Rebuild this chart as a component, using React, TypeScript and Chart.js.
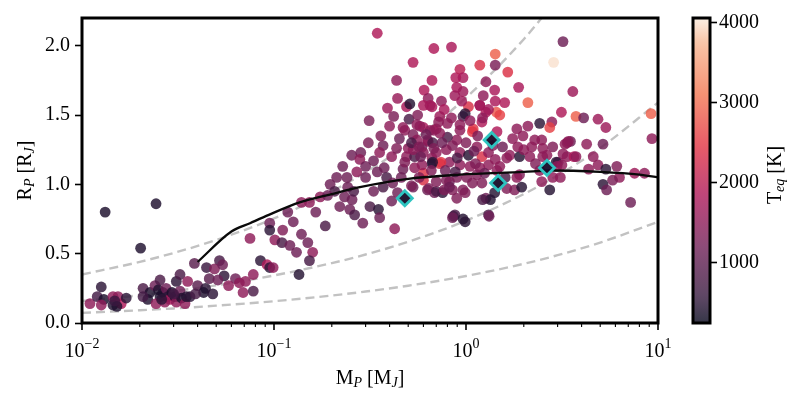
import { useEffect, useRef } from 'react';
import { Chart, registerables } from 'chart.js';
Chart.register(...registerables);

// ---- data: planets (mass [M_J], radius [R_J], equilibrium temperature [K]) ----
const massMJ = [
  0.0132, 0.0243, 0.0202, 0.011, 0.0126, 0.012, 0.013, 0.0126, 0.0145, 0.0145,
  0.0154, 0.016, 0.0152, 0.017, 0.0148, 0.0208, 0.0226, 0.024, 0.025, 0.0255,
  0.0264, 0.0274, 0.028, 0.0287, 0.0294, 0.0305, 0.031, 0.0324, 0.033, 0.0344,
  0.027, 0.022, 0.0243, 0.035, 0.0365, 0.0255, 0.031, 0.0208, 0.026, 0.03,
  0.0324, 0.0355, 0.0385, 0.0445, 0.052, 0.049, 0.054, 0.055, 0.046, 0.051,
  0.075, 0.078, 0.085, 0.092, 0.095, 0.063, 0.071, 0.066, 0.058, 0.069,
  0.078, 0.04, 0.044, 0.043, 0.048, 0.039, 0.095, 0.095, 0.101, 0.111,
  0.11, 0.099,
  0.118, 0.126, 0.139, 0.121, 0.131, 0.15, 0.159, 0.153, 0.135, 0.174,
  0.153, 0.139, 0.212, 0.196, 0.207, 0.242, 0.233, 0.22, 0.248, 0.263,
  0.316, 0.35, 0.355, 0.29, 0.228, 0.254, 0.283, 0.28, 0.27, 0.3,
  0.345, 0.375, 0.41, 0.47, 0.49, 0.54, 0.31, 0.37, 0.435, 0.5,
  0.59, 0.635, 0.665, 0.73, 0.665, 0.6, 0.386, 0.415, 0.44, 0.53,
  0.63, 0.685, 0.755, 0.82, 0.86, 0.425, 0.345, 0.68, 0.84, 0.53,
  0.435, 0.665, 0.885, 0.605, 0.44, 0.635, 0.49, 0.39, 0.42, 0.745,
  0.77, 0.665, 0.313, 0.505, 0.555, 0.48, 0.6, 0.53, 0.68, 0.84,
  0.93, 0.965, 0.895, 0.965, 0.875, 0.51, 0.6, 0.65, 1.03, 0.73,
  0.965, 0.47, 0.7, 0.8, 0.93, 0.99, 1.18, 1.44, 1.59, 1.27,
  1.21, 1.08, 0.93, 0.895, 0.8, 0.73, 0.65, 0.575, 0.555, 0.63,
  0.67, 0.53, 0.6, 0.7, 0.79, 0.93, 1.03, 1.14, 1.21, 1.31,
  1.42, 1.63, 1.31, 1.45, 1.18, 1.05, 0.93, 0.82, 0.74, 0.67,
  0.59, 0.54, 0.6, 0.52, 0.64, 0.7, 0.77, 0.7, 0.79, 0.895,
  1.01, 1.14, 0.85, 0.965, 1.08, 1.21, 1.27, 1.34, 1.41, 1.63,
  1.79, 1.9, 0.875, 0.965, 1.31,
  3.2, 1.42, 1.18, 1.42, 1.65, 2.86, 1.27, 1.41, 1.88, 1.23,
  2.1, 3.6, 1.18, 1.42, 1.31, 1.5, 3.14, 3.74, 1.22, 1.09,
  1.45, 1.84, 2.1, 2.42, 2.8, 2.73, 3.36, 3.5, 1.75, 1.98,
  2.28, 1.86, 2.2, 2.51, 2.83, 2.15, 2.51, 1.69, 3.36, 3.02,
  4.1, 4.87, 5.35, 9.2, 9.3, 4.25, 5.17, 2.48, 2.64, 3.2,
  3.65, 2.95, 3.16, 4.87, 5.35, 6.1, 4.35, 7.55, 8.5, 6.3,
  5.8, 5.17, 5.4, 2.73, 2.83, 3.1, 2.48, 7.2, 1.9, 1.5,
  1.84, 1.95, 1.22, 1.32, 0.99, 0.85, 0.99, 0.895, 2.42, 2.98,
  3.28, 3.41, 3.74, 0.3, 0.33, 0.355, 0.41, 0.255,
  0.45, 0.52, 0.57, 0.62, 0.68, 0.75, 0.85, 0.9, 1.0, 1.1,
  0.48, 0.58, 0.66, 0.78, 0.88, 1.12, 1.25, 1.38, 1.55, 1.6,
  0.36, 0.4, 0.56, 0.72, 0.95, 1.05, 1.15, 0.46, 0.57, 0.82,
  0.24, 0.19, 0.26, 0.165, 0.185, 0.33, 0.37, 2.3, 2.0, 4.6,
];
const radiusRJ = [
  0.8, 0.86, 0.54, 0.14, 0.26, 0.19, 0.17, 0.13, 0.13, 0.19,
  0.19, 0.14, 0.12, 0.18, 0.16, 0.25, 0.22, 0.27, 0.24, 0.19,
  0.22, 0.25, 0.19, 0.17, 0.22, 0.19, 0.15, 0.23, 0.18, 0.14,
  0.15, 0.17, 0.14, 0.19, 0.19, 0.31, 0.3, 0.19, 0.17, 0.21,
  0.35, 0.3, 0.43, 0.4, 0.45, 0.39, 0.42, 0.34, 0.32, 0.31,
  0.61, 0.35, 0.45, 0.42, 0.4, 0.32, 0.3, 0.29, 0.27, 0.22,
  0.23, 0.27, 0.25, 0.22, 0.21, 0.21, 0.72, 0.67, 0.6, 0.67,
  0.58, 0.4,
  0.8, 0.73, 0.64, 0.56, 0.51, 0.58, 0.51, 0.45, 0.35, 0.91,
  0.87, 0.87, 1.05, 1.0, 0.95, 0.98, 0.91, 0.84, 0.82, 0.78,
  0.84, 0.82, 0.76, 0.72, 1.13, 1.21, 1.23, 1.18, 1.09, 1.13,
  1.09, 1.12, 1.2, 1.11, 1.2, 1.2, 1.3, 1.28, 1.26, 1.26,
  1.27, 1.31, 1.19, 1.15, 1.15, 1.08, 1.05, 1.01, 0.94, 0.98,
  0.96, 0.94, 0.94, 1.02, 0.77, 0.68, 2.09, 1.98, 1.99, 1.88,
  1.75, 1.75, 1.77, 1.68, 1.62, 1.62, 1.56, 1.55, 1.49, 1.6,
  1.54, 1.56, 1.46, 1.47, 1.43, 1.39, 1.41, 1.36, 1.39, 1.48,
  1.83, 1.77, 1.7, 1.67, 1.64, 1.58, 1.57, 1.57, 1.56, 1.49,
  1.49, 1.41, 1.4, 1.44, 1.43, 1.51, 1.57, 1.52, 1.59, 1.52,
  1.45, 1.38, 1.39, 1.32, 1.34, 1.37, 1.39, 1.42, 1.32, 1.32,
  1.3, 1.25, 1.23, 1.23, 1.25, 1.23, 1.21, 1.27, 1.2, 1.23,
  1.18, 1.19, 1.14, 1.1, 1.12, 1.13, 1.14, 1.16, 1.16, 1.16,
  1.14, 1.12, 1.03, 0.99, 0.97, 0.95, 0.96, 1.02, 1.03, 1.05,
  1.05, 1.07, 0.96, 0.96, 1.01, 1.01, 0.9, 0.89, 0.94, 0.97,
  0.96, 1.07, 0.78, 0.75, 0.78,
  2.03, 1.94, 1.86, 1.86, 1.81, 1.88, 1.74, 1.68, 1.7, 1.64,
  1.59, 1.67, 1.57, 1.6, 1.54, 1.5, 1.52, 1.49, 1.48, 1.4,
  1.38, 1.4, 1.42, 1.44, 1.45, 1.41, 1.3, 1.31, 1.33, 1.35,
  1.32, 1.27, 1.27, 1.26, 1.27, 1.2, 1.2, 1.21, 1.2, 1.16,
  1.48, 1.47, 1.41, 1.51, 1.33, 1.29, 1.29, 1.32, 1.21, 1.22,
  1.2, 1.16, 1.14, 1.14, 1.11, 1.13, 1.11, 1.08, 1.08, 1.05,
  1.03, 1.0, 0.96, 0.96, 1.05, 1.05, 1.02, 0.87, 1.2, 1.13,
  1.05, 0.98, 0.89, 0.77, 0.73, 0.76, 0.94, 0.9, 1.1, 1.13,
  1.29, 1.31, 1.2, 1.05, 1.17, 1.23, 0.88, 0.89,
  1.33, 1.3, 1.27, 1.36, 1.26, 1.3, 1.28, 1.19, 1.3, 1.24,
  1.16, 1.2, 1.1, 1.1, 1.09, 1.15, 1.08, 1.28, 1.27, 1.05,
  1.35, 1.42, 1.5, 1.45, 1.6, 1.46, 1.35, 1.05, 1.05, 0.98,
  1.05, 0.92, 0.95, 0.8, 0.7, 0.95, 0.98, 1.15, 1.25, 1.2,
];
const teqK = [
  400, 420, 420, 1500, 500, 700, 400, 1500, 420, 1500,
  1500, 1850, 420, 500, 600, 800, 400, 1150, 420, 400,
  420, 1150, 500, 1800, 400, 420, 1500, 1150, 420, 1500,
  1500, 420, 1500, 450, 500, 800, 500, 700, 500, 700,
  800, 1500, 950, 600, 750, 1350, 1150, 500, 950, 1150,
  1500, 1500, 500, 1850, 500, 1150, 1500, 1500, 1500, 1500,
  800, 950, 500, 420, 500, 750, 1150, 500, 1500, 1350,
  800, 1500,
  1150, 1150, 1150, 1150, 1150, 1150, 1500, 750, 450, 1500,
  1500, 1500, 1150, 1150, 800, 1150, 1150, 1150, 1150, 800,
  800, 500, 1150, 1150, 1150, 1150, 1150, 1500, 1500, 1150,
  1150, 1150, 1500, 1150, 1500, 800, 1300, 1150, 1350, 1500,
  1150, 1500, 1500, 2350, 450, 2400, 750, 1150, 1150, 1150,
  1150, 1150, 500, 1150, 450, 1500, 1850, 1850, 1800, 1850,
  1500, 1850, 1850, 1850, 1600, 1500, 1800, 1650, 1300, 1500,
  1800, 1800, 1300, 800, 1500, 1500, 1800, 1300, 1500, 1500,
  2000, 1800, 1800, 1650, 1650, 450, 1800, 1700, 2350, 1650,
  750, 1500, 1650, 1500, 1500, 500, 1850, 2800, 1850, 1850,
  1850, 2450, 1500, 1500, 800, 1500, 1500, 1500, 1500, 1500,
  800, 1500, 1500, 1500, 1500, 1500, 450, 1500, 2350, 1500,
  1500, 1500, 1500, 1500, 1500, 1500, 1500, 1500, 2450, 500,
  1500, 1500, 2350, 1300, 1300, 800, 1350, 1350, 1350, 1350,
  1350, 1350, 1350, 1350, 1350, 1350, 1150, 450, 450, 1350,
  1350, 1350, 800, 450, 800,
  1150, 2900, 2350, 1300, 2400, 4000, 1500, 1800, 1800, 1500,
  2900, 1650, 1700, 1800, 1700, 2600, 1850, 2900, 1500, 2450,
  1850, 1500, 1500, 500, 1500, 2600, 1500, 1150, 1500, 1500,
  1500, 1500, 1500, 1500, 1350, 1500, 1500, 1500, 1500, 1350,
  1150, 1650, 1650, 2900, 1500, 1500, 1150, 1500, 1500, 1500,
  1850, 500, 1500, 1500, 500, 1350, 1500, 1650, 1500, 1500,
  1300, 500, 1150, 450, 1500, 1500, 1500, 1150, 450, 1500,
  1500, 450, 800, 1150, 500, 1150, 1350, 1350, 1500, 1500,
  1500, 1500, 1500, 1150, 1150, 1500, 1150, 1150,
  1150, 800, 1350, 1150, 1350, 1150, 1350, 800, 1350, 1150,
  1350, 1150, 1350, 1150, 800, 1350, 1150, 1350, 1150, 800,
  1350, 1500, 1350, 1500, 1650, 1500, 1350, 1150, 1350, 1150,
  1150, 1150, 800, 1150, 800, 1150, 800, 1350, 1500, 1500,
];

// highlighted planets (cyan diamonds)
const hostMass = [0.48, 1.36, 1.47, 2.64];
const hostRadius = [0.9, 1.32, 1.01, 1.12];

// mass-radius model curve (solid black)
const modelMass = [0.04, 0.06, 0.075, 0.094, 0.136, 0.2, 0.28, 0.5, 0.93, 2.0, 2.74, 5.0, 8.0, 10.0];
const modelRadius = [0.44, 0.66, 0.72, 0.78, 0.87, 0.93, 0.98, 1.04, 1.07, 1.09, 1.1, 1.09, 1.07, 1.05];

// constant-density curves (grey dashed)
const isoMass = [0.01, 0.02, 0.03, 0.05, 0.1, 0.2, 0.3, 0.5, 1, 2, 3, 5, 10];
const isoLowDensity = [0.35, 0.441, 0.505, 0.599, 0.754, 0.95, 1.088, 1.29, 1.625, 2.047, 2.344];
const isoMidDensity = [0.159, 0.2, 0.229, 0.272, 0.343, 0.432, 0.494, 0.586, 0.738, 0.93, 1.064, 1.262, 1.59];
const isoHighDensity = [0.073, 0.092, 0.105, 0.125, 0.157, 0.198, 0.227, 0.269, 0.339, 0.427, 0.489, 0.58, 0.73];

// ticks
const xMajorTicks = [0.01, 0.1, 1, 10];
const xMinorMultipliers = [2, 3, 4, 5, 6, 7, 8, 9];
const yTicks = [0, 0.5, 1, 1.5, 2];
const cbTicks = [1000, 2000, 3000, 4000];
const T_MIN = 240;
const T_MAX = 4060;

// ---- styling ----
const FONT = 'Liberation Serif';
const ROCKET: [number, number[]][] = [
  [0, [3, 5, 26]],
  [1 / 12, [53, 25, 62]],
  [3 / 12, [112, 31, 87]],
  [5 / 12, [173, 23, 89]],
  [7 / 12, [225, 51, 66]],
  [9 / 12, [243, 118, 81]],
  [11 / 12, [246, 180, 143]],
  [1, [250, 235, 221]],
];
function rocket(t: number, a: number) {
  t = Math.max(0, Math.min(1, t));
  for (let i = 0; i < ROCKET.length - 1; i++) {
    const [t0, c0] = ROCKET[i];
    const [t1, c1] = ROCKET[i + 1];
    if (t <= t1) {
      const f = (t - t0) / (t1 - t0);
      const c = c0.map((v, k) => Math.round(v + (c1[k] - v) * f));
      return `rgba(${c[0]},${c[1]},${c[2]},${a})`;
    }
  }
  return `rgba(250,235,221,${a})`;
}

type Seg = { t: string; size: number; italic?: boolean; dy?: number };
function drawSegs(ctx: CanvasRenderingContext2D, segs: Seg[], x: number, y: number) {
  const widths = segs.map((s) => {
    ctx.font = `${s.italic ? 'italic ' : ''}${s.size}px "${FONT}"`;
    return ctx.measureText(s.t).width;
  });
  const total = widths.reduce((p, c) => p + c, 0);
  let cx = x - total / 2;
  ctx.textAlign = 'left';
  ctx.textBaseline = 'alphabetic';
  segs.forEach((s, i) => {
    ctx.font = `${s.italic ? 'italic ' : ''}${s.size}px "${FONT}"`;
    ctx.fillText(s.t, cx, y + (s.dy || 0));
    cx += widths[i];
  });
}

const mainDecor = {
  id: 'mainDecor',
  afterDraw(chart: any) {
    const { ctx, chartArea: a, scales } = chart;
    const xs = scales.x;
    ctx.save();
    ctx.strokeStyle = '#000';
    ctx.fillStyle = '#000';
    xMajorTicks.forEach((v, i) => {
      const px = xs.getPixelForValue(v);
      ctx.lineWidth = 1.6;
      ctx.beginPath();
      ctx.moveTo(px, a.bottom);
      ctx.lineTo(px, a.bottom + 7);
      ctx.stroke();
      if (i < xMajorTicks.length - 1) {
        xMinorMultipliers.forEach((m) => {
          const mp = xs.getPixelForValue(v * m);
          ctx.lineWidth = 1.1;
          ctx.beginPath();
          ctx.moveTo(mp, a.bottom);
          ctx.lineTo(mp, a.bottom + 4);
          ctx.stroke();
        });
      }
      const e = Math.round(Math.log10(v));
      drawSegs(ctx, [
        { t: '10', size: 20 },
        { t: (e < 0 ? '\u2212' : '') + Math.abs(e), size: 14, dy: -9 },
      ], px, 357);
    });
    ctx.lineWidth = 3;
    ctx.strokeRect(a.left, a.top, a.right - a.left, a.bottom - a.top);
    drawSegs(ctx, [
      { t: 'M', size: 20 },
      { t: 'P', size: 14, italic: true, dy: 3 },
      { t: ' [M', size: 20 },
      { t: 'J', size: 14, italic: true, dy: 3 },
      { t: ']', size: 20 },
    ], (a.left + a.right) / 2, 384);
    ctx.translate(31, (a.top + a.bottom) / 2);
    ctx.rotate(-Math.PI / 2);
    drawSegs(ctx, [
      { t: 'R', size: 20 },
      { t: 'P', size: 14, italic: true, dy: 3 },
      { t: ' [R', size: 20 },
      { t: 'J', size: 14, italic: true, dy: 3 },
      { t: ']', size: 20 },
    ], 0, 0);
    ctx.restore();
  },
};

const cbDecor = {
  id: 'cbDecor',
  afterDraw(chart: any) {
    const { ctx, chartArea: a } = chart;
    ctx.save();
    ctx.strokeStyle = '#000';
    ctx.fillStyle = '#000';
    ctx.lineWidth = 3;
    ctx.strokeRect(a.left, a.top, a.right - a.left, a.bottom - a.top);
    ctx.translate(101, 175);
    ctx.rotate(-Math.PI / 2);
    drawSegs(ctx, [
      { t: 'T', size: 20 },
      { t: 'eq', size: 14, italic: true, dy: 3 },
      { t: ' [K]', size: 20 },
    ], 0, 0);
    ctx.restore();
  },
};

export default function App() {
  const mainRef = useRef<HTMLCanvasElement>(null);
  const cbRef = useRef<HTMLCanvasElement>(null);

  useEffect(() => {
    const planets = massMJ.map((m, i) => ({ x: m, y: radiusRJ[i] }));
    const colors = teqK.map((t) => rocket((t - T_MIN) / (T_MAX - T_MIN), 0.82));
    const iso = (vals: number[]) => vals.map((r, i) => ({ x: isoMass[i], y: r }));
    const dashed = (vals: number[]) => ({
      type: 'line',
      data: iso(vals),
      borderColor: '#c2c2c2',
      borderWidth: 2.4,
      borderDash: [9, 5],
      pointRadius: 0,
      cubicInterpolationMode: 'monotone',
      fill: false,
      order: 3,
    });

    const main = new Chart(mainRef.current!, {
      type: 'scatter',
      data: {
        datasets: [
          dashed(isoLowDensity) as any,
          dashed(isoMidDensity) as any,
          dashed(isoHighDensity) as any,
          {
            type: 'scatter',
            data: planets,
            backgroundColor: colors,
            pointRadius: 5.4,
            borderWidth: 0,
            pointBorderWidth: 0,
            order: 2,
          },
          {
            type: 'line',
            data: modelMass.map((m, i) => ({ x: m, y: modelRadius[i] })),
            borderColor: '#0a0a0a',
            borderWidth: 2.3,
            pointRadius: 0,
            cubicInterpolationMode: 'monotone',
            fill: false,
            order: 1,
          } as any,
          {
            type: 'scatter',
            data: hostMass.map((m, i) => ({ x: m, y: hostRadius[i] })),
            pointStyle: 'rectRot',
            pointRadius: 7.5,
            backgroundColor: 'rgba(22,12,40,0.95)',
            borderColor: '#2ec4c0',
            borderWidth: 2.8,
            order: 0,
          },
        ],
      },
      options: {
        animation: false,
        responsive: false,
        devicePixelRatio: 1,
        events: [],
        layout: { padding: { top: 18, right: 142, bottom: 0, left: 0 } },
        plugins: { legend: { display: false }, tooltip: { enabled: false } },
        scales: {
          x: {
            type: 'logarithmic',
            min: 0.01,
            max: 10,
            grid: { display: false },
            border: { display: false },
            ticks: { display: false },
            afterFit: (s: any) => { s.height = 73; },
          },
          y: {
            type: 'linear',
            min: 0,
            max: 2.2,
            afterBuildTicks: (s: any) => { s.ticks = yTicks.map((v) => ({ value: v })); },
            afterFit: (s: any) => { s.width = 82; },
            grid: { drawOnChartArea: false, drawTicks: true, tickLength: 7, tickColor: '#000', tickWidth: 1.6 },
            border: { display: false },
            ticks: {
              color: '#000',
              padding: 5,
              font: { family: FONT, size: 20 },
              callback: (v: any) => Number(v).toFixed(1),
            },
          },
        },
      } as any,
      plugins: [mainDecor],
    });

    const cb = new Chart(cbRef.current!, {
      type: 'bar',
      data: {
        labels: ['Teq'],
        datasets: [
          {
            data: [[T_MIN, T_MAX]] as any,
            backgroundColor: (c: any) => {
              const area = c.chart.chartArea;
              if (!area) return 'rgba(0,0,0,0)';
              const g = c.chart.ctx.createLinearGradient(0, area.bottom, 0, area.top);
              for (let i = 0; i <= 40; i++) {
                g.addColorStop(i / 40, rocket(i / 40, 0.8));
              }
              return g;
            },
            borderWidth: 0,
            barPercentage: 1,
            categoryPercentage: 1,
            borderSkipped: false,
          },
        ],
      },
      options: {
        animation: false,
        responsive: false,
        devicePixelRatio: 1,
        events: [],
        layout: { padding: { top: 18, right: 0, bottom: 73, left: 13 } },
        plugins: { legend: { display: false }, tooltip: { enabled: false } },
        scales: {
          x: { display: false },
          y: {
            position: 'right',
            min: T_MIN,
            max: T_MAX,
            afterBuildTicks: (s: any) => { s.ticks = cbTicks.map((v) => ({ value: v })); },
            afterFit: (s: any) => { s.width = 90; },
            grid: { drawOnChartArea: false, drawTicks: true, tickLength: 7, tickColor: '#000', tickWidth: 1.6 },
            border: { display: false },
            ticks: {
              color: '#000',
              padding: 2,
              font: { family: FONT, size: 20 },
              callback: (v: any) => String(v),
            },
          },
        },
      } as any,
      plugins: [cbDecor],
    });

    return () => {
      main.destroy();
      cb.destroy();
    };
  }, []);

  return (
    <div style={{ position: 'fixed', left: 0, top: 0, width: 800, height: 396, background: '#fff' }}>
      <canvas ref={mainRef} width={800} height={396} style={{ position: 'absolute', left: 0, top: 0, width: 800, height: 396 }} />
      <canvas ref={cbRef} width={120} height={396} style={{ position: 'absolute', left: 680, top: 0, width: 120, height: 396 }} />
    </div>
  );
}
